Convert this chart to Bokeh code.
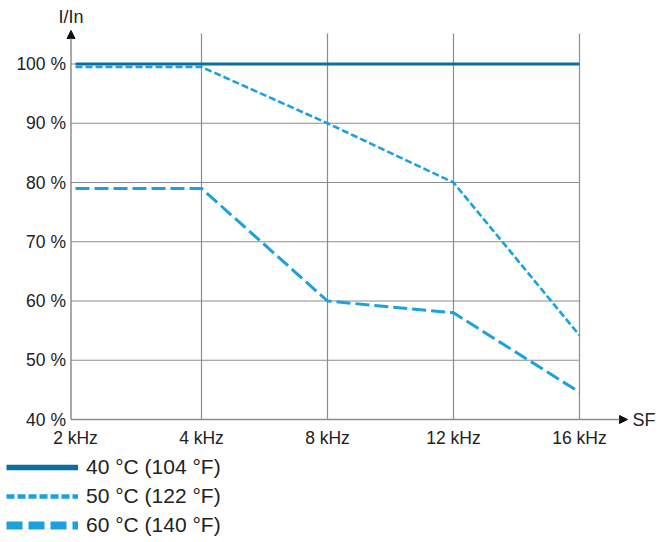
from bokeh.plotting import figure
from bokeh.models import (Range1d, Arrow, NormalHead, Label, Legend, LegendItem,
                          ColumnDataSource)
from bokeh.core.properties import value
from bokeh.embed import file_html
from bokeh.resources import INLINE

# ---- data ----
freq_labels = ["2 kHz", "4 kHz", "8 kHz", "12 kHz", "16 kHz"]
x_idx = [0, 1, 2, 3, 4]
s40 = [100, 100, 100, 100, 100]
s50 = [99.5, 99.5, 90, 80, 54.2]
s60 = [79, 79, 60, 58, 44.6]
y_ticks = [40, 50, 60, 70, 80, 90, 100]
y_tick_labels = ["40 %", "50 %", "60 %", "70 %", "80 %", "90 %", "100 %"]
series_names = ["40 °C (104 °F)", "50 °C (122 °F)", "60 °C (140 °F)"]
y_axis_title = "I/In"
x_axis_title = "SF"

# ---- style / layout ----
FONT = "Liberation Sans"
DARK = "#0b6ea3"
LIGHT = "#1ba1dd"
GRID = "#8c8c8c"
TXT = "#222222"
W, H = 660, 540
PX_PER_X = 126.0          # px per category step
X0_PX = 75.0              # px of first category
PX_PER_Y = 5.925          # px per percent
Y40_PX = 419.0            # px of 40 %

x_start = -X0_PX / PX_PER_X
x_end = (W - X0_PX) / PX_PER_X
y_end = 40 + Y40_PX / PX_PER_Y
y_start = 40 - (H - Y40_PX) / PX_PER_Y

x_axis_pos = x_start + 70.5 / PX_PER_X     # where the y axis line sits
y_top = 40 + (Y40_PX - 33) / PX_PER_Y       # top of the plotting area
y_base = y_ticks[0]
x_last = x_idx[-1]
NAN = float("nan")

p = figure(width=W, height=H, output_backend="svg", toolbar_location=None,
           x_range=Range1d(x_start, x_end), y_range=Range1d(y_start, y_end),
           x_axis_location=None, y_axis_location=None,
           min_border=0, min_border_left=0, min_border_right=0,
           min_border_top=0, min_border_bottom=0)
p.outline_line_color = None
p.grid.visible = False
p.background_fill_color = "white"
p.border_fill_color = "white"

# grid lines (from the tick lists)
vx = x_idx[1:]
p.segment(x0=vx, y0=[y_base] * len(vx), x1=vx, y1=[y_top] * len(vx),
          line_color=GRID, line_width=1.2)
hy = y_ticks[1:]
p.segment(x0=[x_axis_pos] * len(hy), y0=hy, x1=[x_last] * len(hy), y1=hy,
          line_color=GRID, line_width=1.2)

# data lines
r50 = p.line(x_idx, s50, line_color=LIGHT, line_width=2.6, line_dash="7 3")
r60 = p.line(x_idx, s60, line_color=LIGHT, line_width=3, line_dash="14 5")
r40 = p.line(x_idx, s40, line_color=DARK, line_width=3.2)

# axes with arrows
p.add_layout(Arrow(end=NormalHead(size=8, fill_color="#111111", line_color="#111111"),
                   x_start=x_axis_pos, y_start=y_base, x_end=x_axis_pos,
                   y_end=40 + (Y40_PX - 30) / PX_PER_Y,
                   line_color=GRID, line_width=1.5))
p.add_layout(Arrow(end=NormalHead(size=8, fill_color="#111111", line_color="#111111"),
                   x_start=x_axis_pos, y_start=y_base,
                   x_end=x_start + 627 / PX_PER_X, y_end=y_base,
                   line_color=GRID, line_width=1.5))

# tick labels
xsrc = ColumnDataSource(dict(x=x_idx, y=[y_base] * len(x_idx), t=freq_labels))
p.text(x="x", y="y", text="t", source=xsrc, text_align="center",
       text_baseline="middle", y_offset=18, text_font=value(FONT),
       text_font_size="17.5px", text_color=TXT)
ysrc = ColumnDataSource(dict(x=[x_axis_pos] * len(y_ticks), y=y_ticks, t=y_tick_labels))
p.text(x="x", y="y", text="t", source=ysrc, text_align="right",
       text_baseline="middle", x_offset=-5, text_font=value(FONT),
       text_font_size="17.5px", text_color=TXT)

p.add_layout(Label(x=x_axis_pos, y=40 + (Y40_PX - 16.5) / PX_PER_Y, text=y_axis_title,
                   text_font=FONT, text_font_size="18px", text_baseline="middle",
                   text_align="center", text_color=TXT))
p.add_layout(Label(x=x_start + 632 / PX_PER_X, y=y_base, text=x_axis_title,
                   text_font=FONT, text_font_size="18px", text_baseline="middle",
                   text_align="left", text_color=TXT))

# legend glyphs (drawn larger in the legend, as in the reference)
g40 = p.line([NAN], [NAN], line_color=DARK, line_width=5.5)
g50 = p.line([NAN], [NAN], line_color=LIGHT, line_width=4.5, line_dash="8 3")
g60 = p.line([NAN], [NAN], line_color=LIGHT, line_width=8, line_dash="16 6")

legend = Legend(items=[LegendItem(label=series_names[0], renderers=[g40]),
                       LegendItem(label=series_names[1], renderers=[g50]),
                       LegendItem(label=series_names[2], renderers=[g60])],
                location=(6, 3), orientation="vertical",
                glyph_width=72, glyph_height=20, label_height=20,
                label_text_font=FONT, label_text_font_size="21px",
                label_text_color=TXT, label_standoff=8,
                spacing=5, padding=0, margin=0,
                border_line_alpha=0, background_fill_alpha=0)
p.add_layout(legend, "center")

open("out.html", "w").write(file_html(p, INLINE))
